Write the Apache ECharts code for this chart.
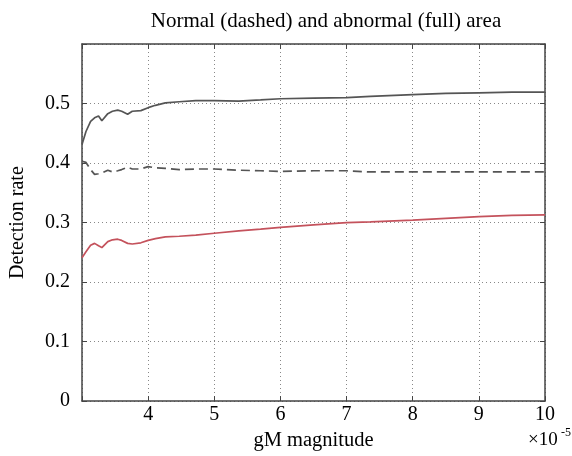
<!DOCTYPE html>
<html>
<head>
<meta charset="utf-8">
<script src="https://cdn.jsdelivr.net/npm/echarts@6/dist/echarts.min.js"></script>
<style>
  html, body { margin: 0; padding: 0; background: #fff; }
  #chart { width: 572px; height: 456px; }
</style>
</head>
<body>
<div id="chart"></div>
<script>
// gM magnitude (x 1e-5)
const magnitude = [3.00, 3.06, 3.13, 3.19, 3.25, 3.30, 3.39, 3.46, 3.54, 3.60, 3.69, 3.76, 3.89, 4.00, 4.11,
  4.26, 4.47, 4.72, 5.00, 5.37, 5.70, 6.00, 6.50, 7.00, 7.36, 8.00, 8.50, 9.00, 9.50, 10.00]
// abnormal area, gray full line
const abnormalFull = [0.431, 0.453, 0.470, 0.476, 0.479, 0.471, 0.483, 0.487, 0.489, 0.487, 0.482, 0.487, 0.488, 0.493, 0.497,
  0.501, 0.503, 0.505, 0.505, 0.504, 0.506, 0.508, 0.509, 0.510, 0.512, 0.515, 0.517, 0.518, 0.519, 0.519]
// normal area, dashed line
const normalDashed = [0.403, 0.401, 0.389, 0.381, 0.382, 0.383, 0.388, 0.385, 0.387, 0.389, 0.393, 0.390, 0.390, 0.394, 0.392,
  0.391, 0.389, 0.390, 0.390, 0.388, 0.387, 0.386, 0.387, 0.387, 0.385, 0.385, 0.385, 0.385, 0.385, 0.385]
// red full line
const redFull = [0.241, 0.251, 0.262, 0.265, 0.261, 0.258, 0.268, 0.271, 0.272, 0.270, 0.265, 0.264, 0.266, 0.270, 0.273,
  0.276, 0.277, 0.279, 0.282, 0.286, 0.289, 0.292, 0.296, 0.300, 0.301, 0.304, 0.307, 0.310, 0.312, 0.313]

const xTicks = { min: 3, max: 10, interval: 1 }
const yTicks = { min: 0, max: 0.6, interval: 0.1 }

const font = 'Liberation Serif'
const boxColor = '#444'
const gridLine = { show: true, lineStyle: { color: '#888', type: [1, 3], width: 1 } }

function pairs(ys) {
  return magnitude.map((x, i) => [x, ys[i]])
}

const chart = echarts.init(document.getElementById('chart'))

chart.setOption({
  animation: false,
  title: {
    text: 'Normal (dashed) and abnormal (full) area',
    left: 321,
    top: 6,
    textAlign: 'center',
    textStyle: { fontFamily: font, fontSize: 21, fontWeight: 'normal', color: '#000' },
  },
  grid: { left: 81, right: 27, top: 44, bottom: 45, containLabel: false },
  xAxis: [
    {
      type: 'value',
      ...xTicks,
      name: 'gM magnitude',
      nameLocation: 'middle',
      nameGap: 25,
      nameTextStyle: { fontFamily: font, fontSize: 20.5, color: '#000' },
      axisLine: { show: true, lineStyle: { color: boxColor, width: 1.5 } },
      axisTick: { show: true, inside: true, length: 5, lineStyle: { color: boxColor } },
      axisLabel: {
        fontFamily: font, fontSize: 20, color: '#000', margin: 4,
        formatter: (v) => (v === 3 ? '' : String(v)),
      },
      splitLine: gridLine,
    },
    {
      type: 'value',
      ...xTicks,
      position: 'top',
      axisLine: { show: true, onZero: false, lineStyle: { color: boxColor, width: 1.5 } },
      axisTick: { show: true, inside: true, length: 5, lineStyle: { color: boxColor } },
      axisLabel: { show: false },
      splitLine: { show: false },
    },
  ],
  yAxis: [
    {
      type: 'value',
      ...yTicks,
      name: 'Detection rate',
      nameLocation: 'middle',
      nameGap: 54,
      nameTextStyle: { fontFamily: font, fontSize: 20, color: '#000' },
      axisLine: { show: true, lineStyle: { color: boxColor, width: 1.5 } },
      axisTick: { show: true, inside: true, length: 5, lineStyle: { color: boxColor } },
      axisLabel: {
        fontFamily: font, fontSize: 20, color: '#000', margin: 12,
        formatter: (v) => (v >= 0.6 ? '' : String(Math.round(v * 10) / 10)),
      },
      splitLine: gridLine,
    },
    {
      type: 'value',
      ...yTicks,
      position: 'right',
      axisLine: { show: true, onZero: false, lineStyle: { color: boxColor, width: 1.5 } },
      axisTick: { show: true, inside: true, length: 5, lineStyle: { color: boxColor } },
      axisLabel: { show: false },
      splitLine: { show: false },
    },
  ],
  graphic: [
    { type: 'text', left: 528, top: 431, style: { text: '×10', font: `19px "${font}"`, fill: '#000' } },
    { type: 'text', left: 561, top: 427, style: { text: '-5', font: `12px "${font}"`, fill: '#000' } },
  ],
  series: [
    {
      name: 'abnormal',
      type: 'line',
      data: pairs(abnormalFull),
      showSymbol: false,
      lineStyle: { color: '#555', width: 1.7 },
    },
    {
      name: 'normal',
      type: 'line',
      data: pairs(normalDashed),
      showSymbol: false,
      lineStyle: { color: '#555', width: 1.7, type: [9, 5] },
    },
    {
      name: 'red',
      type: 'line',
      data: pairs(redFull),
      showSymbol: false,
      lineStyle: { color: '#c4525c', width: 1.7 },
    },
  ],
})
</script>
</body>
</html>
